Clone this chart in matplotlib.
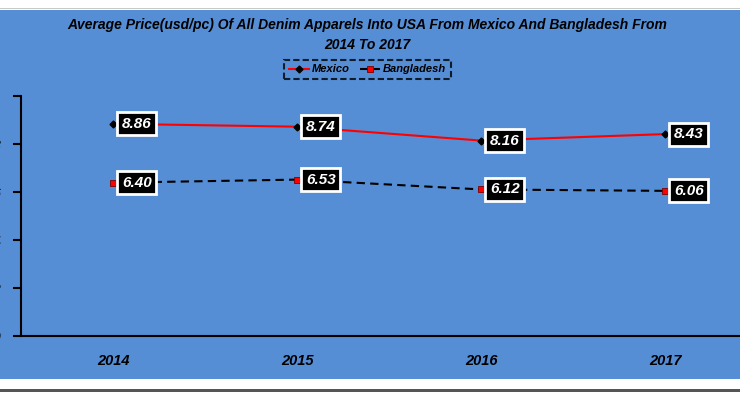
import matplotlib
matplotlib.use("Agg")
import matplotlib.pyplot as plt
from matplotlib.patches import Rectangle

years = ["2014", "2015", "2016", "2017"]
mexico = [8.86, 8.74, 8.16, 8.43]
bangladesh = [6.40, 6.53, 6.12, 6.06]
yticks = [0, 2, 4, 6, 8, 10]

FONT = ["Liberation Sans Narrow", "Liberation Sans", "DejaVu Sans"]
plt.rcParams["font.family"] = FONT

W, H = 740, 393
fig = plt.figure(figsize=(W / 100, H / 100), dpi=100, facecolor="white")

BLUE = "#558ED5"
# background panels
fig.patches.append(Rectangle((0, (H - 379) / H), 1, 369 / H, transform=fig.transFigure,
                             facecolor=BLUE, edgecolor="none", zorder=-2))
fig.patches.append(Rectangle((0, (H - 9) / H), 1, 1.5 / H, transform=fig.transFigure,
                             facecolor="#c8c8c8", edgecolor="none", zorder=-2))
fig.patches.append(Rectangle((0, 1 / H), 1, 3 / H, transform=fig.transFigure,
                             facecolor="#555555", edgecolor="none", zorder=-2))

ax = fig.add_axes([21 / W, (H - 336) / H, 736 / W, 239.5 / H])
ax.set_zorder(2)
ax.set_facecolor("none")
x = list(range(len(years)))

ax.plot(x, mexico, color="#FF0000", lw=1.5, marker="D", ms=3.5,
        mfc="black", mec="black", zorder=3, label="Mexico")
ax.plot(x, bangladesh, color="black", lw=1.5, ls=(0, (4, 2.5)), marker="s", ms=5,
        mfc="#FF0000", mec="#7a0000", mew=0.6, zorder=3, label="Bangladesh")

for series in (mexico, bangladesh):
    for xi, v in zip(x, series):
        ax.annotate(f"{v:.2f}", (xi, v), xytext=(9, 0), textcoords="offset pixels",
                    ha="left", va="center", color="white", fontsize=11,
                    fontweight="bold", fontstyle="italic", zorder=5,
                    bbox=dict(boxstyle="square,pad=0.3", fc="black", ec="white", lw=2))

ax.set_xlim(-0.5, 3.5)
ax.set_ylim(0, 10)
ax.set_yticks(yticks)
ax.set_yticklabels([str(t) for t in yticks], fontsize=10, fontweight="bold", fontstyle="italic")
ax.tick_params(axis="y", direction="out", length=6, width=1.5, pad=9, colors="black")
ax.set_xticks(x)
ax.set_xticklabels(years, fontsize=10.5, fontweight="bold", fontstyle="italic")
ax.tick_params(axis="x", length=0, pad=13)
for s in ("top", "right"):
    ax.spines[s].set_visible(False)
for s in ("left", "bottom"):
    ax.spines[s].set_linewidth(1.5)
    ax.spines[s].set_color("black")

fig.text(367 / W, (H - 25) / H,
         "Average Price(usd/pc) Of All Denim Apparels Into USA From Mexico And Bangladesh From",
         ha="center", va="center", fontsize=10, fontweight="bold", fontstyle="italic")
fig.text(367 / W, (H - 45) / H, "2014 To 2017",
         ha="center", va="center", fontsize=10, fontweight="bold", fontstyle="italic")

leg = fig.legend(loc="center", bbox_to_anchor=(367.5 / W, (H - 69.5) / H), ncol=2,
                 frameon=True, fancybox=False,
                 prop=dict(weight="bold", style="italic", size=8),
                 handlelength=1.8, columnspacing=0.9, handletextpad=0.3,
                 borderpad=0.4)
fr = leg.get_frame()
fr.set_facecolor("none")
fr.set_edgecolor("black")
fr.set_linestyle((0, (3, 1.5)))
fr.set_linewidth(1.5)

fig.savefig("out.png", dpi=100, facecolor="white")
